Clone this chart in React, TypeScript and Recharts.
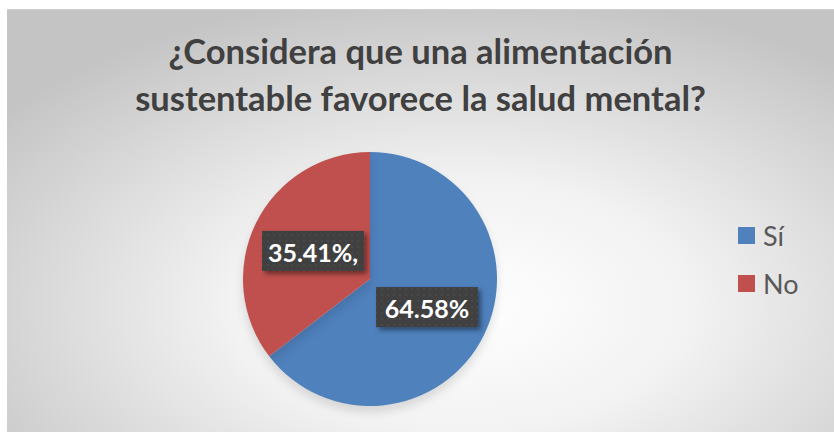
import { PieChart, Pie, Cell, Legend } from 'recharts';

const categories = ['Sí', 'No'];
const values = [64.58, 35.41];
const labels = ['64.58%', '35.41%,'];
const colors = ['#4F81BD', '#C0504D'];

const data = categories.map((name, i) => ({
  name,
  value: values[i],
  label: labels[i],
  color: colors[i],
}));

const RADIAN = Math.PI / 180;

const renderLabel = (props: any) => {
  const { cx, cy, midAngle, outerRadius, index } = props;
  const r = outerRadius * 0.5;
  const x = cx + r * Math.cos(-midAngle * RADIAN);
  const y = cy + r * Math.sin(-midAngle * RADIAN);
  const w = 102;
  const h = 40;
  return (
    <g>
      <rect
        x={x - w / 2}
        y={y - h / 2}
        width={w}
        height={h}
        fill="url(#dots)"
        filter="url(#boxShadow)"
      />
      <text
        x={x}
        y={y + 1}
        fill="#FFFFFF"
        textAnchor="middle"
        dominantBaseline="central"
        fontFamily="Lato, sans-serif"
        fontWeight={700}
        fontSize={25}
      >
        {data[index].label}
      </text>
    </g>
  );
};

const renderLegend = () => (
  <div style={{ fontFamily: 'Lato, sans-serif' }}>
    {data.map((d) => (
      <div
        key={d.name}
        style={{ display: 'flex', alignItems: 'center', height: 48, color: '#595959', fontSize: 27 }}
      >
        <span style={{ width: 17, height: 17, background: d.color, marginRight: 8, display: 'inline-block' }} />
        {d.name}
      </div>
    ))}
  </div>
);

export default function App() {
  return (
    <div style={{ position: 'absolute', left: 0, top: 0, width: 834, height: 432, background: '#fff' }}>
      <div
        style={{
          position: 'absolute',
          left: 7,
          top: 9,
          width: 827,
          height: 423,
          background: 'radial-gradient(ellipse 70% 75% at 55% 70%, #ffffff 0%, #f2f2f2 40%, #c4c4c4 100%)',
          borderTop: '1px solid #d0d0d0',
        }}
      >
        <style>{`.recharts-pie-sector { filter: drop-shadow(0px 6px 5px rgba(0,0,0,0.12)); }`}</style>
        <div
          style={{
            position: 'absolute',
            left: 0,
            top: 17,
            width: 827,
            textAlign: 'center',
            fontFamily: 'Lato, sans-serif',
            fontWeight: 700,
            fontSize: 34.5,
            lineHeight: '47px',
            color: '#404040',
          }}
        >
          ¿Considera que una alimentación
          <br />
          sustentable favorece la salud mental?
        </div>
        <svg width={0} height={0} style={{ position: 'absolute' }}>
          <defs>
            <pattern id="dots" width={6} height={6} patternUnits="userSpaceOnUse">
              <rect width={6} height={6} fill="#3f3f3f" />
              <circle cx={3} cy={3} r={0.8} fill="#575757" />
            </pattern>
            <filter id="boxShadow" x="-20%" y="-20%" width="150%" height="160%">
              <feDropShadow dx={3} dy={3} stdDeviation={2.5} floodColor="#000" floodOpacity={0.45} />
            </filter>
          </defs>
        </svg>
        <PieChart width={827} height={423}>
          <Pie
            data={data}
            dataKey="value"
            nameKey="name"
            cx={358}
            cy={264}
            outerRadius={127}
            startAngle={90}
            endAngle={-270}
            stroke="none"
            label={renderLabel}
            labelLine={false}
            isAnimationActive={false}
          >
            {data.map((d) => (
              <Cell key={d.name} fill={d.color} />
            ))}
          </Pie>
          <Legend
            content={renderLegend}
            wrapperStyle={{ position: 'absolute', left: 731, top: 201, width: 90 }}
          />
        </PieChart>
      </div>
    </div>
  );
}
